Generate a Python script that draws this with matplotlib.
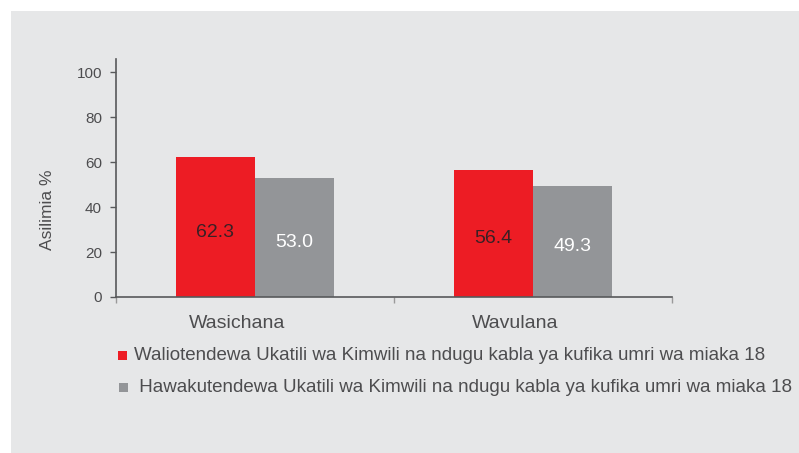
import matplotlib
matplotlib.use("Agg")
import matplotlib.pyplot as plt
from matplotlib.patches import Rectangle
import numpy as np

categories = ["Wasichana", "Wavulana"]
series_names = [
    "Waliotendewa Ukatili wa Kimwili na ndugu kabla ya kufika umri wa miaka 18",
    " Hawakutendewa Ukatili wa Kimwili na ndugu kabla ya kufika umri wa miaka 18",
]
abused = [62.3, 56.4]
not_abused = [53.0, 49.3]
yticks = [0, 20, 40, 60, 80, 100]

RED = "#ed1c24"
GREY = "#939598"
BG = "#e6e7e8"
TXT = "#4d4d4f"
AX = "#58595b"

plt.rcParams["font.family"] = ["Liberation Sans", "DejaVu Sans"]

W, H = 799, 453
fig = plt.figure(figsize=(W / 100, H / 100), dpi=100, facecolor="white")
fig.patches.append(Rectangle((11 / W, 0), 1, 1 - 11 / H, transform=fig.transFigure,
                             facecolor=BG, edgecolor="none", zorder=-10))

ax = fig.add_axes([116 / W, 1 - 297 / H, (672 - 116) / W, (297 - 59) / H])
ax.set_facecolor("none")

x = np.arange(len(categories)) + 0.5
w = 0.285
ax.bar(x - w / 2, abused, width=w, color=RED, edgecolor="none")
ax.bar(x + w / 2, not_abused, width=w, color=GREY, edgecolor="none")

for xi, v in zip(x - w / 2, abused):
    ax.text(xi, v * 0.46, f"{v:.1f}", ha="center", va="center", fontsize=14, color="#3a2024")
for xi, v in zip(x + w / 2, not_abused):
    ax.text(xi, v * 0.46, f"{v:.1f}", ha="center", va="center", fontsize=14, color="white")

ax.set_xlim(0, 2)
ax.set_ylim(0, 106)
ax.set_yticks(yticks)
ax.set_yticklabels([str(t) for t in yticks], fontsize=11, color=TXT)
ax.set_xticks([0, 1, 2])
ax.set_xticklabels([])
ax.tick_params(axis="y", direction="out", length=4, width=1, color=AX, pad=6)
ax.tick_params(axis="x", direction="out", length=4, width=1, color="#9a9a9a")
for s in ["top", "right"]:
    ax.spines[s].set_visible(False)
for s in ["left", "bottom"]:
    ax.spines[s].set_color(AX)
    ax.spines[s].set_linewidth(1.2)

# category labels (positioned as in the reference, left of the group centres)
cat_label_x = [237, 515]
for cx, name in zip(cat_label_x, categories):
    fig.text(cx / W, 1 - 323 / H, name, ha="center", va="center", fontsize=14, color=TXT)

fig.text(47 / W, 1 - 210 / H, "Asilimia %", rotation=90, ha="center", va="center",
         fontsize=12.5, color=TXT)

# legend
leg_rows = [(RED, series_names[0], 118, 134, 355), (GREY, series_names[1], 119, 134, 387)]
for col, name, mx, tx, ty in leg_rows:
    fig.patches.append(Rectangle((mx / W, 1 - (ty + 4.5) / H), 9 / W, 9 / H,
                                 transform=fig.transFigure, facecolor=col, edgecolor="none"))
    fig.text(tx / W, 1 - ty / H, name, ha="left", va="center", fontsize=13.5, color=TXT)

fig.savefig("out.png", dpi=100, facecolor="white")
